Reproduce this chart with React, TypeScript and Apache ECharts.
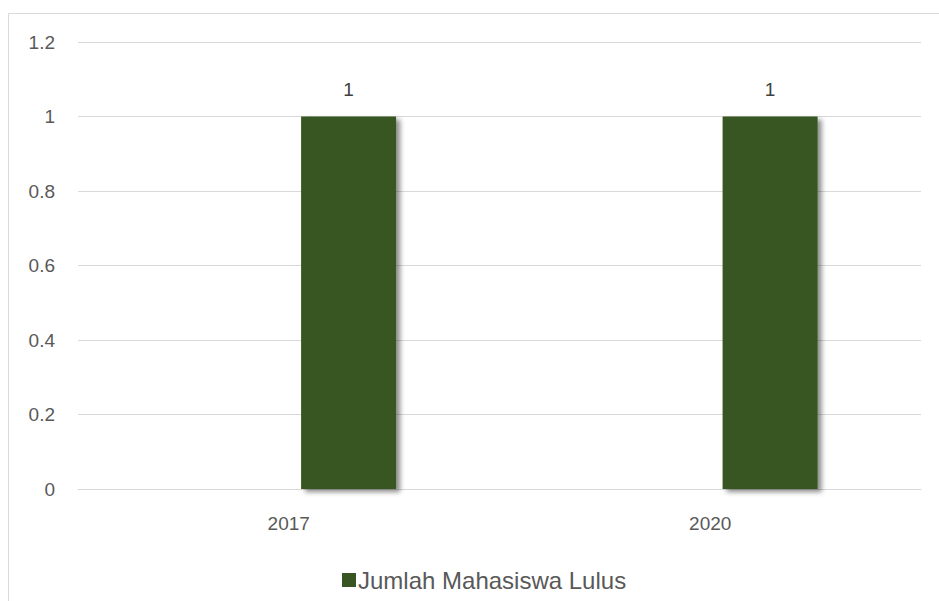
import React, { useEffect, useRef } from "react";
import * as echarts from "echarts";

const categories = ["2017", "2020"];
const lulusValues = [1, 1];
const placeholderValues = ["-", "-"];
const yTicks = { min: 0, max: 1.2, interval: 0.2 };
const seriesName = "Jumlah Mahasiswa Lulus";

export default function App() {
  const ref = useRef<HTMLDivElement>(null);
  useEffect(() => {
    if (!ref.current) return;
    const chart = echarts.init(ref.current, undefined, { renderer: "svg" });
    const textColor = "#595959";
    chart.setOption({
      animation: false,
      backgroundColor: "#ffffff",
      textStyle: { fontFamily: "Liberation Sans" },
      graphic: [
        {
          type: "rect",
          silent: true,
          shape: { x: 8.5, y: 13.5, width: 1000, height: 1000 },
          style: { fill: "none", stroke: "#d9d9d9", lineWidth: 1 },
        },
      ],
      grid: { left: 78, right: 18, top: 42, bottom: 112, containLabel: false },
      legend: {
        data: [seriesName],
        top: 563,
        left: 337,
        itemWidth: 14,
        itemHeight: 14,
        itemGap: 4,
        icon: "rect",
        textStyle: { color: textColor, fontSize: 24, fontFamily: "Liberation Sans", padding: [0, 0, 0, -3] },
      },
      xAxis: {
        type: "category",
        data: categories,
        axisLine: { lineStyle: { color: "#d9d9d9", width: 1 } },
        axisTick: { show: false },
        axisLabel: { color: textColor, fontSize: 19, margin: 25 },
      },
      yAxis: {
        type: "value",
        min: yTicks.min,
        max: yTicks.max,
        interval: yTicks.interval,
        axisLine: { show: false },
        axisTick: { show: false },
        splitLine: { lineStyle: { color: "#d9d9d9", width: 1 } },
        axisLabel: { color: textColor, fontSize: 19, margin: 23 },
      },
      series: [
        {
          name: "placeholder",
          type: "bar",
          data: placeholderValues,
          barWidth: 95,
          barGap: "26%",
          itemStyle: { color: "transparent" },
        },
        {
          name: seriesName,
          type: "bar",
          data: lulusValues,
          barWidth: 95,
          barGap: "26%",
          itemStyle: {
            color: "#375623",
            shadowColor: "rgba(0,0,0,0.45)",
            shadowBlur: 5,
            shadowOffsetX: 4,
            shadowOffsetY: 3,
          },
          label: {
            show: true,
            position: "top",
            distance: 18,
            color: "#404040",
            fontSize: 19,
          },
        },
      ],
    });
    return () => chart.dispose();
  }, []);
  return (
    <div
      ref={ref}
      style={{ position: "fixed", left: 0, top: 0, width: 939, height: 601 }}
    />
  );
}
